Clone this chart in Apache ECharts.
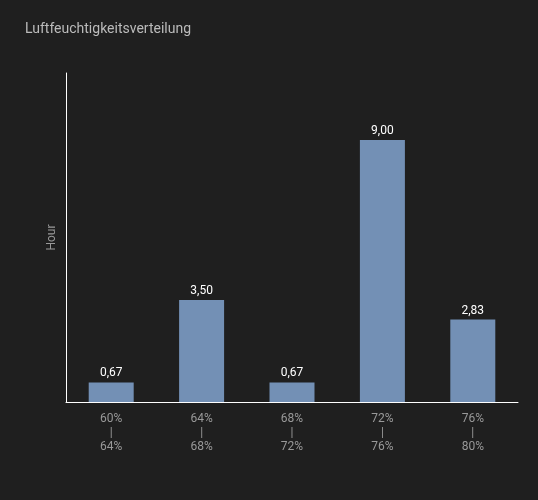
<!DOCTYPE html><html><head><meta charset="utf-8"><script src="https://cdn.jsdelivr.net/npm/echarts@6/dist/echarts.min.js"></script>
<style>html,body{margin:0;background:#1f1f1f}#c{width:538px;height:500px}</style></head><body><div id="c"></div><script>
const categories=["60%\n|\n64%","64%\n|\n68%","68%\n|\n72%","72%\n|\n76%","76%\n|\n80%"];
const values=[0.67,3.5,0.67,9.0,2.83];
const c=echarts.init(document.getElementById('c'));
c.setOption({backgroundColor:'#1f1f1f',
title:{text:'Luftfeuchtigkeitsverteilung',left:20,top:17,textStyle:{color:'#bbb',fontSize:14,fontWeight:'normal',fontFamily:'Roboto'}},
grid:{left:66,right:20,top:73,bottom:98},
xAxis:{type:'category',data:categories,axisLine:{lineStyle:{color:'#fff'}},axisTick:{show:false},axisLabel:{color:'#999',fontSize:12,lineHeight:14,fontFamily:'Roboto',margin:10}},
yAxis:{type:'value',min:0,max:11.3,name:'Hour',nameLocation:'middle',nameGap:8,nameTextStyle:{color:'#999',fontSize:12,fontFamily:'Roboto'},axisLine:{show:true,lineStyle:{color:'#fff'}},axisLabel:{show:false},axisTick:{show:false},splitLine:{show:false}},
series:[{type:'bar',data:values,barWidth:45,itemStyle:{color:'#7390b5'},label:{show:true,position:'top',color:'#fff',fontSize:12,fontFamily:'Roboto',distance:3,formatter:p=>p.value.toFixed(2).replace('.',',')}}]});
</script></body></html>
